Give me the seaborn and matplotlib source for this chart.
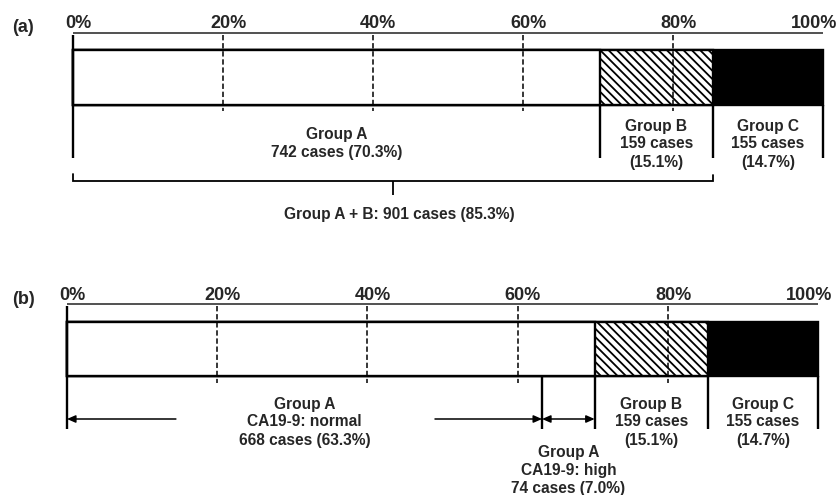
import numpy as np
import pandas as pd
import matplotlib
matplotlib.use("Agg")
import matplotlib.pyplot as plt
import seaborn as sns

# ---------------- data ----------------
groups = ["Group A", "Group B", "Group C"]
cases = [742, 159, 155]
pct_labels = [70.3, 15.1, 14.7]
ca_labels = ["normal", "high"]
ca_cases = [668, 74]
ca_pct = [63.3, 7.0]
ab_cases = 901
ab_pct = 85.3
tick_vals = [0, 20, 40, 60, 80, 100]
tick_labels = ["0%", "20%", "40%", "60%", "80%", "100%"]
panel_labels = ["(a)", "(b)"]

# ---------------- style ----------------
sns.set_theme(style="white")
plt.rcParams["font.family"] = ["Liberation Sans", "DejaVu Sans"]
plt.rcParams["font.weight"] = "bold"
plt.rcParams["hatch.linewidth"] = 1.3
plt.rcParams["hatch.color"] = "black"

total = sum(cases)
cum = np.cumsum(cases) / total * 100          # segment right ends
starts = np.concatenate([[0], cum[:-1]])
mids = (starts + cum) / 2
ca_cum = np.cumsum(ca_cases) / total * 100

fig = plt.figure(figsize=(8.38, 4.95), dpi=100)
W, H = 838, 495

FS = 11.2
LW = 1.7


def make_axes(px_top, px_bot, x0px, scale):
    ax = fig.add_axes([0, 1 - px_bot / H, 1, (px_bot - px_top) / H])
    ax.set_xlim(-x0px / scale, (W - x0px) / scale)
    ax.set_ylim(px_bot, px_top)
    ax.axis("off")
    return ax


def draw_bar(ax, ycen, height):
    df = pd.DataFrame({"group": groups, "end": cum, "ypos": [ycen] * 3})
    sns.barplot(data=df, x="end", y="ypos", hue="group",
                hue_order=groups[::-1],
                palette={"Group A": "white", "Group B": "white", "Group C": "black"},
                dodge=False, native_scale=True, orient="y", width=height,
                edgecolor="black", linewidth=LW, legend=False, ax=ax)
    for p in ax.patches:
        p.set_zorder(2)
    # Group B is drawn second (hue order C, B, A)
    ax.patches[1].set_hatch("\\\\\\\\")


def draw_common(ax, label, y_axis, y_lab, y_bar_top, y_bar_bot, y_dash_bot,
                y_vline_bot, lab_x):
    # top axis line
    ax.hlines(y_axis, 0, 100, color="#222222", lw=1.1, zorder=3)
    for v, t in zip(tick_vals, tick_labels):
        if v == 100:
            ax.text(101.9, y_lab, t, ha="right", va="center", fontsize=13,
                    fontweight="bold")
        else:
            ax.text(v + 0.7, y_lab, t, ha="center", va="center", fontsize=13,
                    fontweight="bold")
    ax.text(lab_x, y_lab + 5, label, ha="center", va="center", fontsize=13,
            fontweight="bold")
    draw_bar(ax, (y_bar_top + y_bar_bot) / 2, y_bar_bot - y_bar_top)
    # dashed gridlines
    ax.vlines(tick_vals[1:-1], y_axis + 2, y_dash_bot, color="black", lw=1.1,
              linestyles=(0, (3.5, 1.8)), zorder=4)
    # left vertical
    ax.vlines(0, y_axis + 2, y_vline_bot, color="black", lw=LW, zorder=4)
    # right segment boundaries below bar
    ax.vlines(cum, y_bar_bot, y_vline_bot, color="black", lw=LW, zorder=4)


# ---------------- panel (a) ----------------
axa = make_axes(0, 247, 73, 7.5)
draw_common(axa, panel_labels[0], 33, 23, 50, 105, 111, 158, -6.7)
axa.text(mids[0], 144, f"{groups[0]}\n{cases[0]} cases ({pct_labels[0]}%)",
         ha="center", va="center", fontsize=FS, linespacing=1.25)
for i in (1, 2):
    axa.text(mids[i], 144, f"{groups[i]}\n{cases[i]} cases\n({pct_labels[i]}%)",
             ha="center", va="center", fontsize=FS, linespacing=1.25)
# bracket for A + B
ab_end = cum[1]
axa.plot([0, 0, ab_end, ab_end], [174, 181, 181, 175], color="black",
         lw=1.3, solid_joinstyle="miter")
axa.vlines(ab_end / 2, 181, 195, color="black", lw=1.3)
axa.text(ab_end / 2 + 0.8, 214, f"Group A + B: {ab_cases} cases ({ab_pct}%)",
         ha="center", va="center", fontsize=FS)

# ---------------- panel (b) ----------------
axb = make_axes(247, 495, 67, 7.51)
draw_common(axb, panel_labels[1], 304, 295, 322, 376, 383, 429, -5.8)
axb.vlines(ca_cum[0], 376, 429, color="black", lw=LW, zorder=4)
# arrows
head = "-|>,head_length=0.5,head_width=0.22"
head2 = "<|-|>,head_length=0.5,head_width=0.22"
arrow_kw = dict(lw=1.1, color="black", shrinkA=0, shrinkB=0, mutation_scale=10)
axb.annotate("", xy=(0, 419), xytext=(14.5, 419),
             arrowprops=dict(arrowstyle=head, **arrow_kw))
axb.annotate("", xy=(ca_cum[0], 419), xytext=(49.0, 419),
             arrowprops=dict(arrowstyle=head, **arrow_kw))
axb.annotate("", xy=(ca_cum[0], 419), xytext=(ca_cum[1], 419),
             arrowprops=dict(arrowstyle=head2, **arrow_kw))
axb.text(ca_cum[0] / 2, 422,
         f"{groups[0]}\nCA19-9: {ca_labels[0]}\n{ca_cases[0]} cases ({ca_pct[0]}%)",
         ha="center", va="center", fontsize=FS, linespacing=1.25)
axb.text((ca_cum[0] + ca_cum[1]) / 2, 471,
         f"{groups[0]}\nCA19-9: {ca_labels[1]}\n{ca_cases[1]} cases ({ca_pct[1]}%)",
         ha="center", va="center", fontsize=FS, linespacing=1.25)
for i in (1, 2):
    axb.text(mids[i], 422, f"{groups[i]}\n{cases[i]} cases\n({pct_labels[i]}%)",
             ha="center", va="center", fontsize=FS, linespacing=1.25)

fig.savefig("out.png", dpi=100)
